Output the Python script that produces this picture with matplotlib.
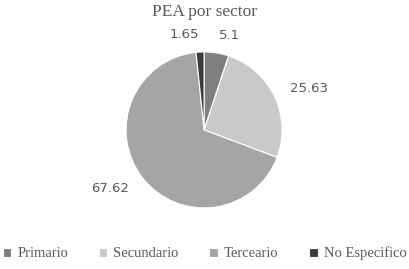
import matplotlib.pyplot as plt

sectores = ["Primario", "Secundario", "Terceario", "No Especifico"]
valores = [5.1, 25.63, 67.62, 1.65]
etiquetas = ["5.1", "25.63", "67.62", "1.65"]
colores = ["#7f7f7f", "#c9c9c9", "#a5a5a5", "#3b3b3b"]

fig = plt.figure(figsize=(4.09, 2.69), dpi=100)
ax = fig.add_axes([0.499 - 0.1907, 0.517 - 0.29, 0.3814, 0.58])

wedges, texts = ax.pie(valores, labels=etiquetas, colors=colores, startangle=90,
                       counterclock=False, labeldistance=1.22,
                       wedgeprops=dict(edgecolor="white", linewidth=0.8),
                       textprops=dict(color="#595959", fontsize=9.5))
ax.set_xlim(-1, 1)
ax.set_ylim(-1, 1)
ax.set_aspect("equal")

fig.text(0.5, 0.957, "PEA por sector", ha="center", va="center",
         family="Liberation Serif", fontsize=12.5, color="#595959")

leg = fig.legend(wedges, sectores, loc="center", bbox_to_anchor=(0.5, 0.058), ncol=4,
                 frameon=False, handlelength=0.6, handleheight=0.6, handletextpad=0.4,
                 columnspacing=2.1, prop=dict(family="Liberation Serif", size=10.5))
for t in leg.get_texts():
    t.set_color("#595959")

fig.savefig("out.png", dpi=100)
